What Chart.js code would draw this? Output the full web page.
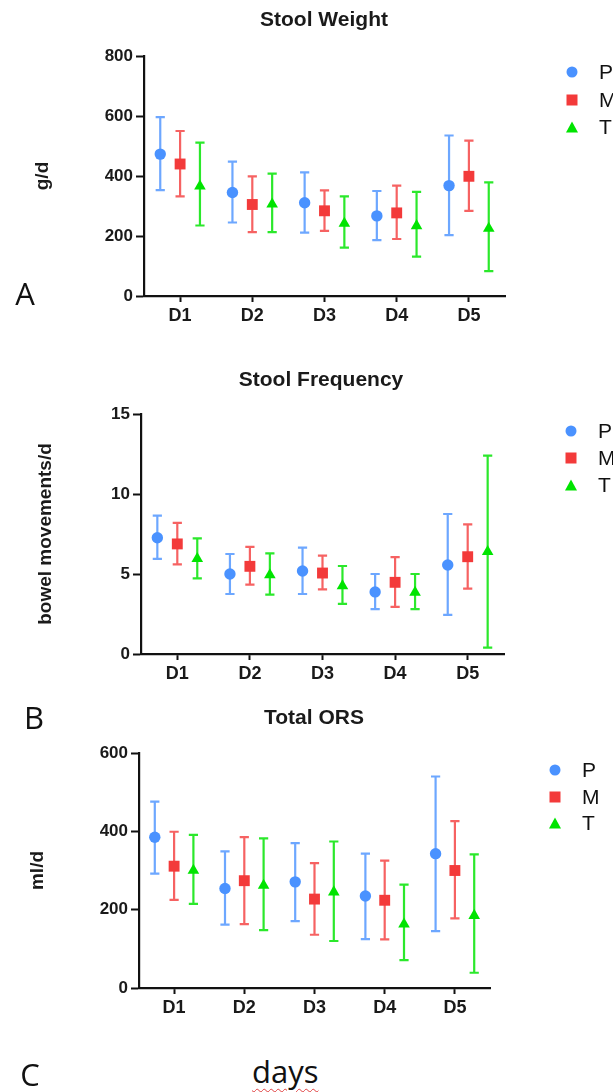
<!DOCTYPE html>
<html>
<head>
<meta charset="utf-8">
<script src="https://cdn.jsdelivr.net/npm/chart.js@4.4.1/dist/chart.umd.min.js"></script>
<style>
  html, body { margin: 0; padding: 0; background: #fff; }
  body { width: 613px; height: 1092px; position: relative; overflow: hidden; font-family: 'Liberation Sans', Arial, sans-serif; color: #1a1a1a; }
  canvas.panel { position: absolute; left: 0; }
  .title { position: absolute; font-weight: bold; font-size: 21px; line-height: 1; transform: translate(-50%, -50%); white-space: nowrap; }
  .letter { position: absolute; font-family: 'Open Sans', 'Liberation Sans', sans-serif; font-size: 31px; line-height: 1; transform: translate(-50%, -50%); color: #111; }
  .days { position: absolute; font-family: 'Open Sans', 'Liberation Sans', sans-serif; font-size: 31px; line-height: 1; color: #111;
          text-decoration: underline wavy #e04040; text-decoration-thickness: 1px; text-underline-offset: 5px; }
  .lg-mark { position: absolute; transform: translate(-50%, -50%); }
  .lg-text { position: absolute; font-size: 21px; line-height: 1; transform: translateY(-50%); white-space: nowrap; color: #111; }
</style>
</head>
<body>
<canvas id="cA" class="panel" width="613" height="340" style="top:0px"></canvas>
<canvas id="cB" class="panel" width="613" height="360" style="top:340px"></canvas>
<canvas id="cC" class="panel" width="613" height="340" style="top:700px"></canvas>

<div class="title" style="left:324px; top:18px">Stool Weight</div>
<div class="title" style="left:321px; top:378px">Stool Frequency</div>
<div class="title" style="left:314px; top:716px">Total ORS</div>

<div class="letter" style="left:25px; top:293px">A</div>
<div class="letter" style="left:34px; top:717px">B</div>
<div class="letter" style="left:30px; top:1074px">C</div>
<div class="days" style="left:252px; top:1056px">days</div>

<script>
// ---------- data ----------
const days = ['D1', 'D2', 'D3', 'D4', 'D5'];
const seriesNames = ['P', 'M', 'T'];

// Stool Weight (g/d)
const weightP = [473, 345, 311, 267, 368];
const weightPLow = [353, 245, 211, 186, 203];
const weightPHigh = [596, 448, 412, 350, 535];
const weightM = [440, 305, 284, 277, 399];
const weightMLow = [332, 213, 217, 190, 284];
const weightMHigh = [550, 399, 352, 368, 518];
const weightT = [366, 306, 242, 234, 225];
const weightTLow = [235, 213, 161, 131, 83];
const weightTHigh = [511, 408, 332, 347, 379];
const weightTicks = [0, 200, 400, 600, 800];

// Stool Frequency (bowel movements/d)
const freqP = [7.27, 5.0, 5.19, 3.88, 5.56];
const freqPLow = [5.94, 3.75, 3.75, 2.81, 2.44];
const freqPHigh = [8.65, 6.25, 6.65, 5.0, 8.75];
const freqM = [6.88, 5.48, 5.06, 4.48, 6.08];
const freqMLow = [5.6, 4.33, 4.04, 2.94, 4.08];
const freqMHigh = [8.19, 6.69, 6.15, 6.06, 8.1];
const freqT = [5.96, 4.94, 4.25, 3.85, 6.4];
const freqTLow = [4.73, 3.71, 3.13, 2.81, 0.4];
const freqTHigh = [7.23, 6.29, 5.5, 5.0, 12.4];
const freqTicks = [0, 5, 10, 15];

// Total ORS (ml/d)
const orsP = [385, 254, 271, 235, 343];
const orsPLow = [292, 162, 171, 125, 145];
const orsPHigh = [476, 349, 370, 343, 540];
const orsM = [311, 274, 227, 224, 300];
const orsMLow = [225, 163, 136, 124, 178];
const orsMHigh = [399, 385, 319, 325, 426];
const orsT = [300, 262, 245, 163, 185];
const orsTLow = [215, 148, 120, 71, 39];
const orsTHigh = [391, 382, 374, 264, 341];
const orsTicks = [0, 200, 400, 600];

// ---------- styles ----------
const FONT = "'Liberation Sans', Arial, sans-serif";
const markColors = ['rgb(74,146,255)', 'rgb(243,58,58)', 'rgb(0,228,0)'];
const barColors = ['rgba(84,152,255,0.85)', 'rgba(245,70,70,0.85)', 'rgba(20,230,20,0.9)'];
const pointStyles = ['circle', 'rect', 'triangle'];
const pointRadii = [5.7, 7.7, 6.7];
const groupOffsets = [-0.275, 0, 0.275];

const errorBarPlugin = {
  id: 'errorBars',
  beforeDatasetsDraw(chart) {
    const { ctx, scales: { x, y } } = chart;
    chart.data.datasets.forEach((ds) => {
      ctx.save();
      ctx.strokeStyle = ds.errorColor;
      ctx.lineWidth = 2.2;
      ctx.lineCap = 'butt';
      ds.data.forEach((p) => {
        const px = x.getPixelForValue(p.x);
        const yl = y.getPixelForValue(p.lo);
        const yh = y.getPixelForValue(p.hi);
        const cap = 4.6;
        ctx.beginPath();
        ctx.moveTo(px, yh); ctx.lineTo(px, yl);
        ctx.moveTo(px - cap, yh); ctx.lineTo(px + cap, yh);
        ctx.moveTo(px - cap, yl); ctx.lineTo(px + cap, yl);
        ctx.stroke();
      });
      ctx.restore();
    });
  }
};

function makeChart(id, series, ticks, yTitle, box) {
  const datasets = series.map((s, k) => ({
    label: seriesNames[k],
    data: s.mean.map((v, i) => ({ x: i + 1 + groupOffsets[k], y: v, lo: s.low[i], hi: s.high[i] })),
    pointStyle: pointStyles[k],
    pointRadius: pointRadii[k],
    pointHoverRadius: pointRadii[k],
    backgroundColor: markColors[k],
    borderColor: markColors[k],
    borderWidth: 0,
    showLine: false,
    errorColor: barColors[k]
  }));
  return new Chart(document.getElementById(id), {
    type: 'scatter',
    data: { datasets },
    plugins: [errorBarPlugin],
    options: {
      responsive: false,
      animation: false,
      events: [],
      layout: { padding: { left: 0, top: box.top, right: box.right, bottom: box.bottom } },
      plugins: { legend: { display: false }, title: { display: false }, tooltip: { enabled: false } },
      scales: {
        x: {
          type: 'linear',
          min: 0.5, max: 5.5,
          afterBuildTicks: (sc) => { sc.ticks = days.map((d, i) => ({ value: i + 1 })); },
          afterFit: (sc) => { sc.height = 30; },
          border: { display: true, color: '#111', width: 2.2 },
          grid: { display: true, drawOnChartArea: false, drawTicks: true, tickLength: 6, tickWidth: 2, tickColor: '#111', color: '#111' },
          ticks: {
            autoSkip: false, maxRotation: 0, padding: 3, color: '#1a1a1a',
            font: { family: FONT, size: 18, weight: 'bold' },
            callback: (v) => days[Math.round(v) - 1]
          }
        },
        y: {
          type: 'linear',
          min: ticks[0], max: ticks[ticks.length - 1],
          afterBuildTicks: (sc) => { sc.ticks = ticks.map(v => ({ value: v })); },
          afterFit: (sc) => { sc.width = box.left; },
          border: { display: true, color: '#111', width: 2.2 },
          grid: { display: true, drawOnChartArea: false, drawTicks: true, tickLength: 8, tickWidth: 2, tickColor: '#111', color: '#111' },
          ticks: { padding: 3, color: '#1a1a1a', font: { family: FONT, size: 17, weight: 'bold' } },
          title: {
            display: true, text: yTitle, color: '#1a1a1a',
            font: { family: FONT, size: 19, weight: 'bold' },
            padding: { top: box.titlePad, bottom: 0 }
          }
        }
      }
    }
  });
}

makeChart('cA', [
  { mean: weightP, low: weightPLow, high: weightPHigh },
  { mean: weightM, low: weightMLow, high: weightMHigh },
  { mean: weightT, low: weightTLow, high: weightTHigh }
], weightTicks, 'g/d', { left: 144, right: 108, top: 56, bottom: 14, titlePad: 31 });

makeChart('cB', [
  { mean: freqP, low: freqPLow, high: freqPHigh },
  { mean: freqM, low: freqMLow, high: freqMHigh },
  { mean: freqT, low: freqTLow, high: freqTHigh }
], freqTicks, 'bowel movements/d', { left: 141, right: 109, top: 74, bottom: 16, titlePad: 34 });

makeChart('cC', [
  { mean: orsP, low: orsPLow, high: orsPHigh },
  { mean: orsM, low: orsMLow, high: orsMHigh },
  { mean: orsT, low: orsTLow, high: orsTHigh }
], orsTicks, 'ml/d', { left: 139, right: 123, top: 53, bottom: 22, titlePad: 26 });

// ---------- legends (HTML) ----------
function legend(markX, textX, ys) {
  seriesNames.forEach((name, k) => {
    const m = document.createElement('div');
    m.className = 'lg-mark';
    m.style.left = markX + 'px';
    m.style.top = ys[k] + 'px';
    if (k === 0) { m.style.width = '11px'; m.style.height = '11px'; m.style.borderRadius = '50%'; m.style.background = markColors[0]; }
    else if (k === 1) { m.style.width = '11px'; m.style.height = '11px'; m.style.background = markColors[1]; }
    else { m.style.width = '0'; m.style.height = '0'; m.style.borderLeft = '6px solid transparent'; m.style.borderRight = '6px solid transparent'; m.style.borderBottom = '11px solid ' + markColors[2]; }
    document.body.appendChild(m);
    const t = document.createElement('div');
    t.className = 'lg-text';
    t.style.left = textX + 'px';
    t.style.top = (ys[k] - 1) + 'px';
    t.textContent = name;
    document.body.appendChild(t);
  });
}
legend(572, 599, [72, 99.5, 127]);
legend(571, 598, [431, 458, 485]);
legend(555, 582, [770, 797, 823]);
</script>
</body>
</html>
